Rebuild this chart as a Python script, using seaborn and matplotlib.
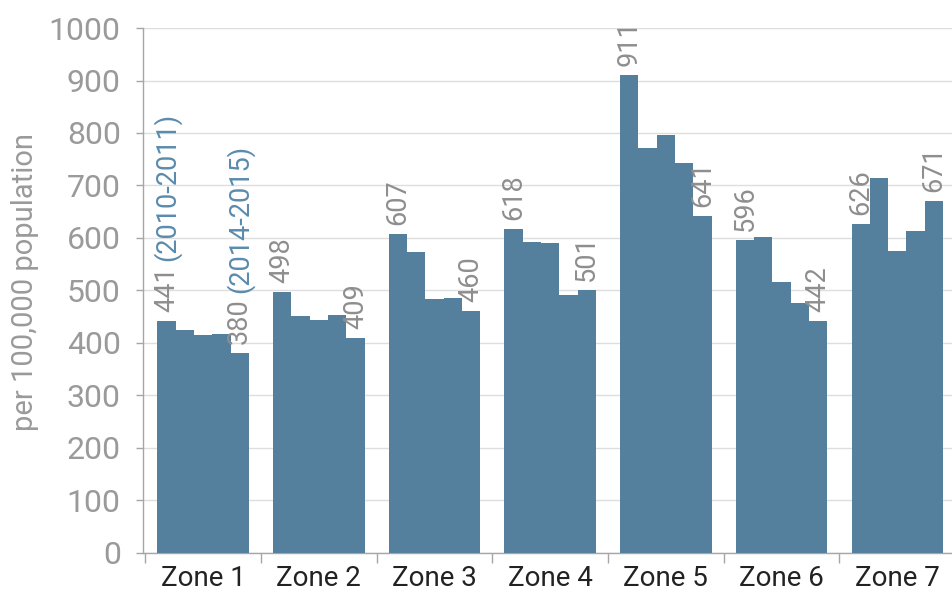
import pandas as pd
import matplotlib.pyplot as plt
import seaborn as sns

# data (rate per 100,000 population)
zones = ['Zone 1', 'Zone 2', 'Zone 3', 'Zone 4', 'Zone 5', 'Zone 6', 'Zone 7']
periods = ['2010-2011', '2011-2012', '2012-2013', '2013-2014', '2014-2015']
rate_2010 = [441, 498, 607, 618, 911, 596, 626]
rate_2011 = [425, 451, 573, 592, 771, 601, 714]
rate_2012 = [415, 444, 483, 591, 797, 517, 575]
rate_2013 = [417, 453, 486, 492, 742, 476, 613]
rate_2014 = [380, 409, 460, 501, 641, 442, 671]
y_ticks = [0, 100, 200, 300, 400, 500, 600, 700, 800, 900, 1000]

series = [rate_2010, rate_2011, rate_2012, rate_2013, rate_2014]
rows = []
for p, vals in zip(periods, series):
    for z, v in zip(zones, vals):
        rows.append({'zone': z, 'period': p, 'rate': v})
df = pd.DataFrame(rows)

bar_color = '#54809e'
label_gray = '#8e8e8e'
year_blue = '#5a8bad'
axis_gray = '#a6a6a6'

sns.set_style('white')
plt.rcParams['font.family'] = ['Roboto', 'DejaVu Sans']

fig = plt.figure(figsize=(9.52, 5.92), dpi=100)
ax = fig.add_axes([0.1502, 0.0659, 0.853, 0.8868])

sns.barplot(data=df, x='zone', y='rate', hue='period', order=zones, hue_order=periods,
            palette=[bar_color] * 5, saturation=1, width=0.79, gap=0,
            linewidth=0, legend=False, ax=ax, zorder=3)

ax.set_xlim(-0.52, 6.5)
ax.set_ylim(0, 1000)
ax.set_yticks(y_ticks)
ax.yaxis.grid(True, color='#dedede', linewidth=1, zorder=0)
ax.set_axisbelow(True)

for side in ['top', 'right']:
    ax.spines[side].set_visible(False)
for side in ['left', 'bottom']:
    ax.spines[side].set_color(axis_gray)
    ax.spines[side].set_linewidth(1)

ax.tick_params(axis='y', which='major', length=5, width=1, color=axis_gray,
               labelcolor='#9a9a9a', labelsize=23, pad=11, left=True)

ax.set_xticks(range(len(zones)))
ax.set_xticklabels(zones)
ax.set_xticks([i - 0.5 for i in range(len(zones))], minor=True)
ax.tick_params(axis='x', which='major', length=0, labelsize=20, labelcolor='#222222', pad=9)
ax.tick_params(axis='x', which='minor', length=7, width=1, color=axis_gray, bottom=True)

ax.set_xlabel('')
ax.set_ylabel('per 100,000 population', fontsize=21, color='#9a9a9a')
ax.yaxis.set_label_coords(-0.128, 0.516)

# value labels on first and last period, drawn from the bars themselves
label_style = dict(textcoords='offset points', xytext=(0, 6.5), ha='center', va='bottom',
                   rotation=90, fontsize=19.5)
first_bars = ax.containers[0]
last_bars = ax.containers[-1]
first_txt = []
last_txt = []
for bar, v in zip(first_bars, rate_2010):
    first_txt.append(ax.annotate(str(v), xy=(bar.get_x() + bar.get_width() / 2, bar.get_height()),
                                 color=label_gray, **label_style))
for bar, v in zip(last_bars, rate_2014):
    last_txt.append(ax.annotate(str(v), xy=(bar.get_x() + bar.get_width() / 2, bar.get_height()),
                                color=label_gray, **label_style))

# period names next to the Zone 1 labels
for txt, period in [(first_txt[0], periods[0]), (last_txt[0], periods[-1])]:
    ax.annotate('(' + period + ')', xy=(0.5, 1), xycoords=txt, xytext=(0, 4),
                textcoords='offset points', ha='center', va='bottom', rotation=90,
                color=year_blue, fontsize=19.5)

plt.savefig('out.png', dpi=100)
